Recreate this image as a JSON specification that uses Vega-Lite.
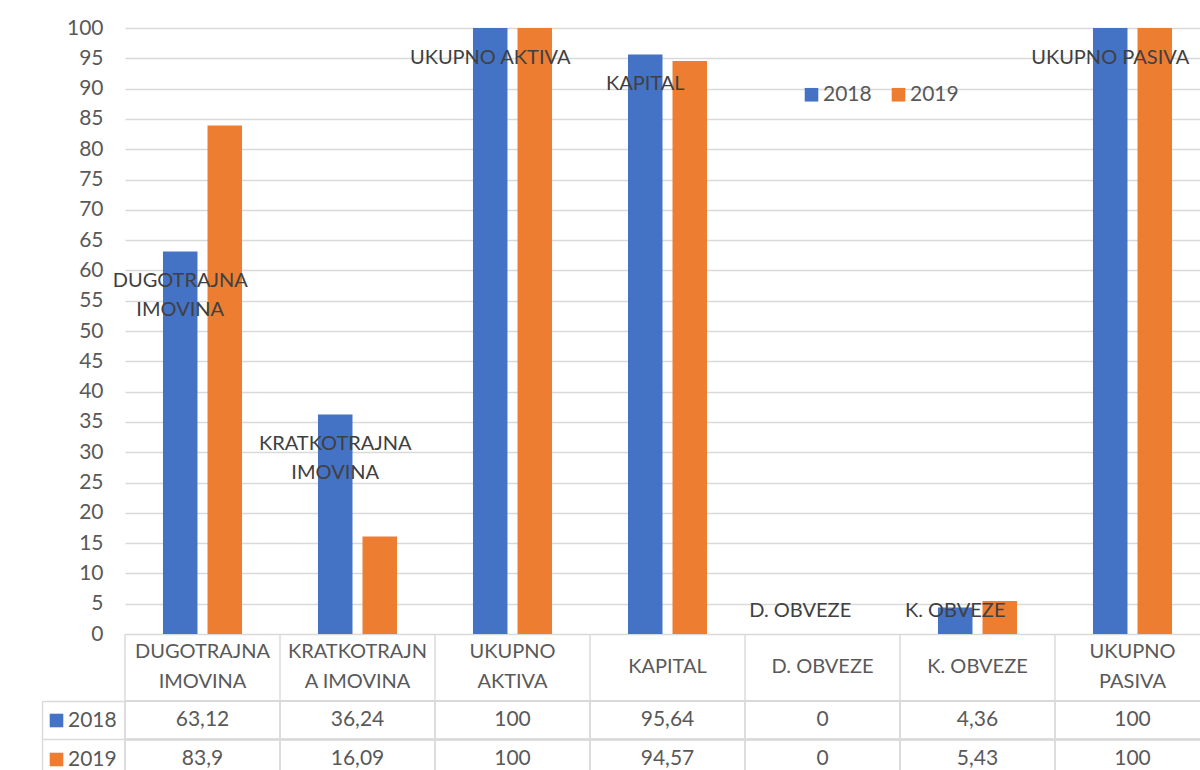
{
  "$schema": "https://vega.github.io/schema/vega-lite/v6.json",
  "background": "white",
  "padding": {"left": 41, "top": 17, "right": 0, "bottom": 0},
  "spacing": 0,
  "bounds": "flush",
  "config": {
    "locale": {"number": {"decimal": ",", "thousands": ".", "grouping": [3], "currency": ["", " kn"]}},
    "font": "Lato",
    "view": {"stroke": null},
    "axis": {"labelFont": "Lato", "gridColor": "#d9d9d9", "gridWidth": 1.4, "domainColor": "#d9d9d9", "tickColor": "#d9d9d9", "labelColor": "#595959"},
    "legend": {"labelFont": "Lato", "padding": 0}
  },
  "data": {"values": [
    {"kategorija": "DUGOTRAJNA IMOVINA", "godina": "2018", "vrijednost": 63.12, "oznaka": "DUGOTRAJNA\nIMOVINA", "zaglavlje": "DUGOTRAJNA\nIMOVINA"},
    {"kategorija": "DUGOTRAJNA IMOVINA", "godina": "2019", "vrijednost": 83.9, "oznaka": "DUGOTRAJNA\nIMOVINA", "zaglavlje": "DUGOTRAJNA\nIMOVINA"},
    {"kategorija": "KRATKOTRAJNA IMOVINA", "godina": "2018", "vrijednost": 36.24, "oznaka": "KRATKOTRAJNA\nIMOVINA", "zaglavlje": "KRATKOTRAJN\nA IMOVINA"},
    {"kategorija": "KRATKOTRAJNA IMOVINA", "godina": "2019", "vrijednost": 16.09, "oznaka": "KRATKOTRAJNA\nIMOVINA", "zaglavlje": "KRATKOTRAJN\nA IMOVINA"},
    {"kategorija": "UKUPNO AKTIVA", "godina": "2018", "vrijednost": 100, "oznaka": "UKUPNO AKTIVA", "zaglavlje": "UKUPNO\nAKTIVA"},
    {"kategorija": "UKUPNO AKTIVA", "godina": "2019", "vrijednost": 100, "oznaka": "UKUPNO AKTIVA", "zaglavlje": "UKUPNO\nAKTIVA"},
    {"kategorija": "KAPITAL", "godina": "2018", "vrijednost": 95.64, "oznaka": "KAPITAL", "zaglavlje": "KAPITAL"},
    {"kategorija": "KAPITAL", "godina": "2019", "vrijednost": 94.57, "oznaka": "KAPITAL", "zaglavlje": "KAPITAL"},
    {"kategorija": "D. OBVEZE", "godina": "2018", "vrijednost": 0, "oznaka": "D. OBVEZE", "zaglavlje": "D. OBVEZE"},
    {"kategorija": "D. OBVEZE", "godina": "2019", "vrijednost": 0, "oznaka": "D. OBVEZE", "zaglavlje": "D. OBVEZE"},
    {"kategorija": "K. OBVEZE", "godina": "2018", "vrijednost": 4.36, "oznaka": "K. OBVEZE", "zaglavlje": "K. OBVEZE"},
    {"kategorija": "K. OBVEZE", "godina": "2019", "vrijednost": 5.43, "oznaka": "K. OBVEZE", "zaglavlje": "K. OBVEZE"},
    {"kategorija": "UKUPNO PASIVA", "godina": "2018", "vrijednost": 100, "oznaka": "UKUPNO PASIVA", "zaglavlje": "UKUPNO\nPASIVA"},
    {"kategorija": "UKUPNO PASIVA", "godina": "2019", "vrijednost": 100, "oznaka": "UKUPNO PASIVA", "zaglavlje": "UKUPNO\nPASIVA"}
  ]},
  "vconcat": [
    {
      "width": 1085,
      "height": 606,
      "encoding": {
        "x": {"field": "kategorija", "type": "nominal", "sort": null, "axis": null, "scale": {"paddingInner": 0.49, "paddingOuter": 0.245}},
        "xOffset": {"field": "godina", "type": "nominal", "scale": {"paddingInner": 0.225, "paddingOuter": 0}},
        "y": {"field": "vrijednost", "type": "quantitative", "scale": {"domain": [0, 100], "nice": false},
              "axis": {"values": [0, 5, 10, 15, 20, 25, 30, 35, 40, 45, 50, 55, 60, 65, 70, 75, 80, 85, 90, 95, 100], "title": null, "domain": false, "ticks": false, "labelFontSize": 21, "labelPadding": 22, "grid": true}}
      },
      "layer": [
        {
          "mark": {"type": "bar"},
          "encoding": {
            "color": {"field": "godina", "type": "nominal", "scale": {"domain": ["2018", "2019"], "range": ["#4472C4", "#ED7D31"]},
                      "legend": {"title": null, "orient": "none", "direction": "horizontal", "legendX": 676, "legendY": 56, "symbolType": "square", "symbolSize": 185, "symbolStrokeWidth": 0, "labelFontSize": 21, "labelColor": "#595959", "columnPadding": 16, "labelOffset": 1}}
          }
        },
        {
          "transform": [{"filter": "datum.godina == '2018' && datum.vrijednost >= 10"}],
          "mark": {"type": "text", "lineBreak": "\n", "fontSize": 20, "color": "#404040", "baseline": "alphabetic", "dy": 35.5, "lineHeight": 29},
          "encoding": {"text": {"field": "oznaka"}}
        },
        {
          "transform": [{"filter": "datum.godina == '2018' && datum.vrijednost < 1"}],
          "mark": {"type": "text", "lineBreak": "\n", "fontSize": 20, "color": "#404040", "baseline": "alphabetic", "dy": -17.3},
          "encoding": {"text": {"field": "oznaka"}}
        },
        {
          "transform": [{"filter": "datum.godina == '2018' && datum.vrijednost >= 1 && datum.vrijednost < 10"}],
          "mark": {"type": "text", "lineBreak": "\n", "fontSize": 20, "color": "#404040", "baseline": "alphabetic", "dy": 9},
          "encoding": {"text": {"field": "oznaka"}}
        }
      ]
    },
    {
      "width": 1085,
      "height": 66.5,
      "transform": [{"filter": "datum.godina == '2018'"}],
      "encoding": {
        "x": {"field": "kategorija", "type": "nominal", "sort": null, "axis": null, "scale": {"paddingInner": 0, "paddingOuter": 0}}
      },
      "layer": [
        {
          "mark": {"type": "rule", "color": "#d9d9d9", "strokeWidth": 1.4},
          "encoding": {"x": {"field": "kategorija", "type": "nominal", "sort": null, "bandPosition": 0}}
        },
        {
          "transform": [{"filter": "indexof(datum.zaglavlje, '\\n') >= 0"}],
          "mark": {"type": "text", "lineBreak": "\n", "fontSize": 20, "color": "#595959", "lineHeight": 30, "baseline": "middle", "dy": -15},
          "encoding": {"text": {"field": "zaglavlje"}}
        },
        {
          "transform": [{"filter": "indexof(datum.zaglavlje, '\\n') < 0"}],
          "mark": {"type": "text", "lineBreak": "\n", "fontSize": 20, "color": "#595959", "baseline": "middle"},
          "encoding": {"text": {"field": "zaglavlje"}}
        }
      ]
    },
    {
      "width": 1085,
      "height": 77,
      "encoding": {
        "x": {"field": "kategorija", "type": "nominal", "sort": null, "axis": null, "scale": {"paddingInner": 0, "paddingOuter": 0}},
        "y": {"field": "godina", "type": "nominal", "scale": {"paddingInner": 0, "paddingOuter": 0},
              "axis": {"title": null, "labels": false, "domain": true, "domainWidth": 1.4, "offset": 83, "ticks": true, "tickSize": -83, "tickWidth": 1.4, "grid": false, "bandPosition": 0}}
      },
      "layer": [
        {
          "mark": {"type": "rule", "color": "#d9d9d9", "strokeWidth": 1.4},
          "encoding": {"x": {"field": "kategorija", "type": "nominal", "sort": null, "bandPosition": 0}, "y": null}
        },
        {
          "mark": {"type": "rule", "color": "#d9d9d9", "strokeWidth": 1.4},
          "encoding": {"x": null, "y": {"field": "godina", "type": "nominal", "bandPosition": 0}}
        },
        {
          "mark": {"type": "text", "fontSize": 21, "color": "#595959", "baseline": "middle"},
          "encoding": {"text": {"field": "vrijednost", "type": "quantitative"}}
        },
        {
          "mark": {"type": "square", "opacity": 0},
          "encoding": {
            "color": {"field": "godina", "type": "nominal",
                      "legend": {"title": null, "orient": "none", "direction": "vertical", "legendX": -79, "legendY": 9, "symbolType": "square", "symbolSize": 185, "symbolOpacity": 1, "symbolStrokeWidth": 0, "labelFontSize": 21, "labelColor": "#595959", "labelOffset": 1, "rowPadding": 17}}
          }
        }
      ]
    }
  ],
  "resolve": {"scale": {"x": "independent"}, "legend": {"color": "independent"}}
}
